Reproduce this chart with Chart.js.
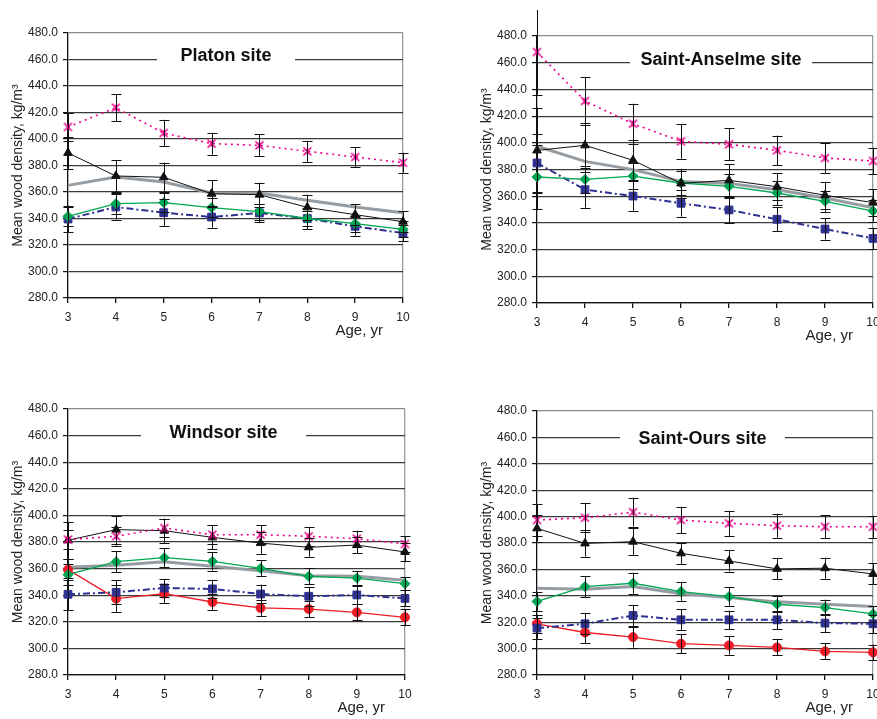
<!DOCTYPE html>
<html>
<head>
<meta charset="utf-8">
<script src="https://cdn.jsdelivr.net/npm/chart.js@4.4.1/dist/chart.umd.min.js"></script>
<style>
html, body { margin: 0; padding: 0; background: #fff; overflow: hidden; width: 877px; height: 719px; }
canvas { position: absolute; }
</style>
</head>
<body>
<canvas id="platon" width="440" height="360" style="left:0;top:0"></canvas>
<canvas id="anselme" width="420" height="360" style="left:469px;top:0"></canvas>
<canvas id="windsor" width="440" height="359" style="left:0;top:360px"></canvas>
<canvas id="ours" width="420" height="359" style="left:469px;top:360px"></canvas>
<script>
// ages on the x axis
const ages = ['3', '4', '5', '6', '7', '8', '9', '10'];
const yMin = 280, yMax = 480, yStep = 20;

// Platon site
const platonStar = [409.1, 423.6, 404.5, 396.5, 395.2, 390.7, 386.4, 382.1];
const platonStarErr = [10.5, 10.3, 10, 8.3, 8.3, 8, 7.5, 7.5];
const platonTriangle = [389.5, 372.1, 371.1, 358.7, 358.0, 348.4, 342.9, 337.6];
const platonTriangleErr = [12, 12, 11, 10, 9, 9.7, 7.7, 8];
const platonMean = [365.0, 371.3, 367.5, 359.2, 359.2, 353.7, 348.7, 344.4];
const platonDiamond = [341.6, 351.2, 352.0, 348.2, 345.2, 340.0, 336.1, 331.8];
const platonDiamondErr = [7, 8, 7, 7, 6, 6, 6, 6];
const platonSquare = [339.6, 348.7, 344.4, 341.1, 344.2, 340.0, 334.1, 329.0];
const platonSquareErr = [10, 9.5, 10, 8, 7, 8, 7, 6];

// Saint-Anselme site
const anselmeStar = [468.0, 431.3, 414.3, 401.1, 398.9, 394.4, 388.6, 386.4];
const anselmeStarErr = [32, 18, 15, 13, 12, 11, 11, 10];
const anselmeTriangle = [394.3, 398.1, 386.9, 369.6, 371.9, 367.1, 360.7, 355.2];
const anselmeTriangleErr = [32, 17, 15, 11, 12, 10, 10, 10];
const anselmeMean = [397.4, 386.1, 379.9, 371.1, 369.6, 364.9, 358.7, 351.4];
const anselmeDiamond = [374.4, 372.6, 375.1, 369.9, 367.4, 362.4, 356.2, 348.9];
const anselmeDiamondErr = [24, 10, 10, 9, 9, 9, 8, 8];
const anselmeSquare = [384.9, 364.9, 360.1, 354.7, 349.7, 342.7, 335.4, 328.4];
const anselmeSquareErr = [22, 13.5, 11, 10, 10, 9, 8, 8];

// Windsor site
const windsorStar = [381.8, 384.3, 390.5, 385.5, 385.5, 384.3, 382.5, 378.5];
const windsorStarErr = [7, 7, 7, 7, 7, 7, 6, 6];
const windsorTriangle = [381.3, 389.3, 388.5, 383.5, 379.2, 376.0, 377.7, 372.5];
const windsorTriangleErr = [14, 10.5, 9, 9, 8, 7, 6, 7];
const windsorMean = [361.0, 362.5, 365.2, 361.7, 358.4, 354.7, 354.2, 351.2];
const windsorDiamond = [355.4, 365.2, 368.2, 365.5, 360.2, 354.2, 352.9, 348.7];
const windsorDiamondErr = [8, 8, 7, 7, 6, 6, 5, 5];
const windsorSquare = [340.7, 342.2, 345.4, 344.7, 340.9, 339.2, 340.2, 337.6];
const windsorSquareErr = [12, 9, 7, 7, 7, 7, 7, 6];
const windsorCircle = [359.2, 337.4, 341.2, 334.9, 330.4, 329.6, 327.1, 323.4];
const windsorCircleErr = [8, 10, 7, 6, 6, 6, 6, 6];

// Saint-Ours site
const oursStar = [397.4, 399.1, 403.4, 397.4, 394.9, 393.1, 392.3, 392.3];
const oursStarErr = [12, 11, 11, 10, 9.5, 9, 8.6, 8.4];
const oursTriangle = [391.1, 379.7, 381.0, 372.2, 366.4, 360.4, 360.9, 356.6];
const oursTriangleErr = [10, 10, 10, 8, 8, 8, 8, 8];
const oursMean = [345.7, 345.0, 347.0, 341.5, 338.7, 335.4, 333.6, 331.9];
const oursDiamond = [335.7, 347.0, 349.5, 343.2, 339.4, 333.6, 331.1, 326.3];
const oursDiamondErr = [7, 8, 8, 7, 7, 6, 6, 6];
const oursSquare = [315.5, 318.8, 325.1, 321.8, 321.8, 321.8, 319.3, 318.8];
const oursSquareErr = [8, 8, 8, 8, 7, 7, 7, 7];
const oursCircle = [318.8, 312.2, 308.7, 303.7, 302.4, 300.9, 297.9, 297.1];
const oursCircleErr = [7, 8, 8, 7, 7, 6, 6, 6];

Chart.defaults.font.family = '"Liberation Sans", Arial, sans-serif';
Chart.defaults.color = '#222';

// excel style star marker: x with a vertical bar
const starMark = document.createElement('canvas');
starMark.width = 11; starMark.height = 11;
(function () {
    const c = starMark.getContext('2d');
    c.strokeStyle = '#ec008c';
    c.lineWidth = 1.6;
    c.beginPath();
    c.moveTo(1.5, 1.5); c.lineTo(9.5, 9.5);
    c.moveTo(9.5, 1.5); c.lineTo(1.5, 9.5);
    c.moveTo(5.5, 2.5); c.lineTo(5.5, 8.5);
    c.stroke();
})();

function series(s) {
    const sets = [];
    sets.push({ data: s.star, errorBars: s.starErr, borderColor: '#ec008c', backgroundColor: '#ec008c',
        borderWidth: 1.6, borderDash: [2, 4], pointStyle: starMark, pointRadius: 5 });
    sets.push({ data: s.triangle, errorBars: s.triangleErr, borderColor: '#111', backgroundColor: '#111',
        borderWidth: 1, pointStyle: 'triangle', pointRadius: 5 });
    sets.push({ data: s.diamond, errorBars: s.diamondErr, borderColor: '#00a651', backgroundColor: '#00a651',
        borderWidth: 1.3, pointStyle: 'rectRot', pointRadius: 5 });
    sets.push({ data: s.square, errorBars: s.squareErr, borderColor: '#2e3192', backgroundColor: '#2e3192',
        borderWidth: 2, borderDash: [7, 3, 2, 3], pointStyle: 'rect', pointRadius: 5.5 });
    if (s.circle) {
        sets.push({ data: s.circle, errorBars: s.circleErr, borderColor: '#ed1c24', backgroundColor: '#ed1c24',
            borderWidth: 1.3, pointStyle: 'circle', pointRadius: 4.5 });
    }
    sets.push({ data: s.mean, borderColor: '#959ca2', backgroundColor: '#959ca2',
        borderWidth: 3, pointRadius: 0 });
    sets.forEach(d => { d.tension = 0; d.pointBorderWidth = 1; d.clip = false; });
    return sets;
}

// title box, "Age, yr" label and error bars
const deco = {
    id: 'deco',
    afterDatasetsDraw(chart, args, opts) {
        const ctx = chart.ctx;
        const a = chart.chartArea;
        const yScale = chart.scales.y;
        ctx.save();
        ctx.strokeStyle = '#111';
        ctx.lineWidth = 1;
        chart.data.datasets.forEach((ds, i) => {
            if (!ds.errorBars) return;
            const meta = chart.getDatasetMeta(i);
            meta.data.forEach((pt, j) => {
                const v = ds.data[j], e = ds.errorBars[j];
                const top = yScale.getPixelForValue(Math.min(v + e, yMax));
                const bot = yScale.getPixelForValue(Math.max(v - e, yMin));
                const x = Math.round(pt.x) + 0.5;
                ctx.beginPath();
                ctx.moveTo(x, top); ctx.lineTo(x, bot);
                if (v + e <= yMax) { ctx.moveTo(x - 5, Math.round(top) + 0.5); ctx.lineTo(x + 5, Math.round(top) + 0.5); }
                if (v - e >= yMin) { ctx.moveTo(x - 5, Math.round(bot) + 0.5); ctx.lineTo(x + 5, Math.round(bot) + 0.5); }
                ctx.stroke();
            });
        });
        if (opts.axisExtend) {
            ctx.beginPath();
            ctx.moveTo(a.left + 0.5, a.top - opts.axisExtend);
            ctx.lineTo(a.left + 0.5, a.top);
            ctx.stroke();
        }
        const cx = a.left + opts.titleX, cy = a.top + opts.titleY;
        ctx.fillStyle = '#fff';
        ctx.fillRect(cx - opts.gap / 2, cy - 12, opts.gap, 24);
        ctx.fillStyle = '#111';
        ctx.font = 'bold 18px "Liberation Sans", Arial, sans-serif';
        ctx.textAlign = 'center';
        ctx.textBaseline = 'middle';
        ctx.fillText(opts.title, cx, cy);
        ctx.font = '15px "Liberation Sans", Arial, sans-serif';
        ctx.fillStyle = '#222';
        ctx.textAlign = 'right';
        ctx.fillText('Age, yr', a.right - 20, a.bottom + 33);
        ctx.restore();
    }
};

function makeChart(id, s, pad, xHeight, deco_opts) {
    new Chart(document.getElementById(id), {
        type: 'line',
        data: { labels: ages, datasets: series(s) },
        options: {
            responsive: false,
            animation: false,
            layout: { padding: { left: 0, top: pad.top, right: pad.right, bottom: 0 } },
            plugins: { legend: { display: false }, tooltip: { enabled: false }, deco: deco_opts },
            scales: {
                x: {
                    offset: false,
                    grid: {
                        drawOnChartArea: true,
                        color: c => c.index === ages.length - 1 ? '#9a9a9a' : 'rgba(0,0,0,0)',
                        tickColor: '#111',
                        tickLength: 5,
                        lineWidth: 1.3
                    },
                    border: { color: '#111', width: 1.3 },
                    ticks: { font: { size: 12 }, padding: 7, maxRotation: 0, autoSkip: false },
                    afterFit: sc => { sc.height = xHeight; }
                },
                y: {
                    min: yMin, max: yMax,
                    grid: {
                        color: c => c.tick && c.tick.value === yMax ? '#8a8a8a' : '#3a3a3a',
                        tickColor: '#111',
                        tickLength: 5,
                        lineWidth: 1.2
                    },
                    border: { color: '#111', width: 1.3 },
                    ticks: { stepSize: yStep, font: { size: 12 }, padding: 5, callback: v => Number(v).toFixed(1) },
                    title: { display: true, text: 'Mean wood density, kg/m³', font: { size: 14 }, padding: { top: 10, bottom: 0 } },
                    afterFit: sc => { sc.width = 68; }
                }
            }
        },
        plugins: [deco]
    });
}

makeChart('platon', {
    star: platonStar, starErr: platonStarErr, triangle: platonTriangle, triangleErr: platonTriangleErr,
    mean: platonMean, diamond: platonDiamond, diamondErr: platonDiamondErr, square: platonSquare, squareErr: platonSquareErr
}, { top: 33, right: 37 }, 62, { title: 'Platon site', titleX: 158, titleY: 23, gap: 138, axisExtend: 0 });

makeChart('anselme', {
    star: anselmeStar, starErr: anselmeStarErr, triangle: anselmeTriangle, triangleErr: anselmeTriangleErr,
    mean: anselmeMean, diamond: anselmeDiamond, diamondErr: anselmeDiamondErr, square: anselmeSquare, squareErr: anselmeSquareErr
}, { top: 36, right: 16 }, 57, { title: 'Saint-Anselme site', titleX: 184, titleY: 24, gap: 182, axisExtend: 26 });

makeChart('windsor', {
    star: windsorStar, starErr: windsorStarErr, triangle: windsorTriangle, triangleErr: windsorTriangleErr,
    mean: windsorMean, diamond: windsorDiamond, diamondErr: windsorDiamondErr, square: windsorSquare, squareErr: windsorSquareErr,
    circle: windsorCircle, circleErr: windsorCircleErr
}, { top: 49, right: 35 }, 44, { title: 'Windsor site', titleX: 155.5, titleY: 24, gap: 165, axisExtend: 0 });

makeChart('ours', {
    star: oursStar, starErr: oursStarErr, triangle: oursTriangle, triangleErr: oursTriangleErr,
    mean: oursMean, diamond: oursDiamond, diamondErr: oursDiamondErr, square: oursSquare, squareErr: oursSquareErr,
    circle: oursCircle, circleErr: oursCircleErr
}, { top: 51, right: 16 }, 44, { title: 'Saint-Ours site', titleX: 165.5, titleY: 28, gap: 165, axisExtend: 0 });
</script>
</body>
</html>
